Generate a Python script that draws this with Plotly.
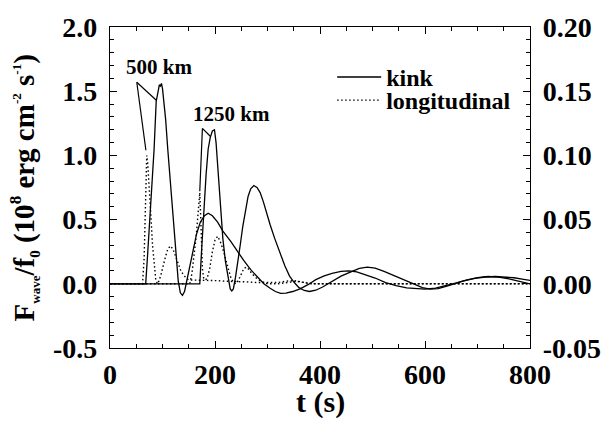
import plotly.graph_objects as go

# ---- data ----
# kink, 500 km (left axis, 10^8 erg cm^-2 s^-1)
K500_T = [0, 68, 72, 76, 80, 84, 88, 91, 94, 96, 98, 100, 103, 106, 110, 115, 120, 125, 130, 134,
          138, 142, 147, 152, 158, 165, 172, 180, 187, 195, 205, 215, 230, 243, 255, 268, 280, 293, 305, 315,
          325, 335, 348, 362, 378, 392, 408, 423, 440, 455, 470, 485, 505, 525, 545, 565, 585, 600, 620, 640,
          660, 680, 700, 720, 740, 760, 780, 800]
K500 = [0, 0, 0.25, 0.5, 0.75, 1.05, 1.42, 1.5, 1.55, 1.54, 1.56, 1.52, 1.42, 1.28, 1.05, 0.78, 0.5, 0.22, 0.02, -0.07,
        -0.09, -0.06, 0.04, 0.15, 0.27, 0.39, 0.48, 0.53, 0.55, 0.53, 0.48, 0.41, 0.33, 0.25, 0.18, 0.11, 0.057, 0.0, -0.035, -0.06,
        -0.075, -0.072, -0.06, -0.04, -0.005, 0.032, 0.062, 0.082, 0.097, 0.1, 0.093, 0.075, 0.045, 0.01, -0.015, -0.032, -0.041, -0.042, -0.033, -0.015,
        0.007, 0.03, 0.048, 0.057, 0.052, 0.038, 0.018, 0.0]

# kink, 1250 km
K1250_T = [0, 171, 175, 179, 183, 187, 191, 195, 199, 202, 205, 208, 211, 215, 220, 225, 229, 232, 235, 239,
           243, 248, 253, 258, 263, 268, 274, 280, 286, 292, 298, 305, 314, 323, 333, 342, 351, 360, 370, 380,
           392, 405, 423, 440, 460, 475, 490, 505, 522, 540, 560, 580, 595, 610, 625, 645, 672, 695, 715, 734,
           750, 770, 785, 800]
K1250 = [0, 0, 0.3, 0.6, 0.85, 1.05, 1.14, 1.19, 1.2, 1.1, 0.92, 0.72, 0.55, 0.35, 0.17, 0.04, -0.04, -0.055, -0.04, 0.05,
         0.15, 0.3, 0.45, 0.58, 0.68, 0.74, 0.765, 0.75, 0.71, 0.64, 0.55, 0.46, 0.35, 0.25, 0.14, 0.06, 0.01, -0.03, -0.052, -0.06,
         -0.05, -0.025, 0.02, 0.06, 0.095, 0.12, 0.13, 0.122, 0.097, 0.065, 0.032, 0.0, -0.03, -0.042, -0.037, -0.015, 0.02, 0.042, 0.053, 0.057,
         0.055, 0.047, 0.037, 0.027]

# longitudinal, 500 km (right axis)
L500_T = [0, 62, 65, 67, 69, 70, 72, 75, 78, 81, 84, 87, 90, 93, 97, 101, 105, 110, 115, 120,
          125, 130, 135, 140, 145, 150, 160, 180, 200, 220, 240, 260, 280, 300, 320, 335, 350, 365, 380, 400, 800]
L500 = [0, 0, 0.02, 0.05, 0.085, 0.1, 0.093, 0.075, 0.052, 0.03, 0.014, 0.004, 0.0, 0.002, 0.007, 0.014, 0.02, 0.027, 0.0295, 0.027,
        0.021, 0.015, 0.01, 0.007, 0.0045, 0.003, 0.003, 0.003, 0.0025, 0.002, 0.002, 0.0015, 0.001, 0.001, 0.001, 0.002, 0.0025, 0.0015, 0.0, 0.0, 0.0]

# longitudinal, 1250 km (right axis)
L1250_T = [0, 152, 156, 160, 164, 168, 171, 172.5, 174, 176, 178, 181, 185, 190, 195, 200, 205, 210, 215, 220,
           225, 230, 235, 240, 245, 250, 255, 260, 265, 270, 280, 290, 300, 320, 340, 355, 370, 390, 800]
L1250 = [0, 0, 0.008, 0.02, 0.036, 0.056, 0.071, 0.055, 0.03, 0.012, 0.005, 0.003, 0.004, 0.012, 0.025, 0.034, 0.037, 0.033, 0.027, 0.019,
         0.012, 0.005, 0.001, 0.0, 0.003, 0.008, 0.012, 0.013, 0.011, 0.008, 0.004, 0.0015, 0.0, 0.0, 0.001, 0.002, 0.001, 0.0, 0.0]

# labels with leader lines: (label, label position, leader origin, leader targets)
LABELS = [
    ("500 km", (93, 1.69), (51, 1.57), [(68.4, 1.04), (88.2, 1.43)]),
    ("1250 km", (232, 1.325), (176, 1.21), [(171, 0.72), (191.5, 1.147)]),
]

X_TICKS = [0, 200, 400, 600, 800]
Y_TICKS = [-0.5, 0.0, 0.5, 1.0, 1.5, 2.0]
Y_TICKTEXT = ["-0.5", "0.0", "0.5", "1.0", "1.5", "2.0"]
Y2_TICKS = [-0.05, 0.0, 0.05, 0.10, 0.15, 0.20]
Y2_TICKTEXT = ["-0.05", "0.00", "0.05", "0.10", "0.15", "0.20"]

FONT = "Liberation Serif"
DOT = "1.5px,2.5px"

fig = go.Figure()
line_solid = dict(color="black", width=1.3)
line_dot = dict(color="black", width=1.4, dash=DOT)

fig.add_trace(go.Scatter(x=K500_T, y=K500, mode="lines", line=line_solid, name="kink",
                         legend="legend", showlegend=True))
fig.add_trace(go.Scatter(x=K1250_T, y=K1250, mode="lines", line=line_solid, name="kink", showlegend=False))
fig.add_trace(go.Scatter(x=L500_T, y=L500, mode="lines", line=line_dot, name="longitudinal",
                         yaxis="y2", legend="legend2", showlegend=True))
fig.add_trace(go.Scatter(x=L1250_T, y=L1250, mode="lines", line=line_dot, name="longitudinal",
                         yaxis="y2", showlegend=False))

shapes = []
annotations = []
for text, (lx, ly), (ox, oy), targets in LABELS:
    for (tx, ty) in targets:
        shapes.append(dict(type="line", xref="x", yref="y", x0=ox, y0=oy, x1=tx, y1=ty,
                           line=dict(color="black", width=1.2)))
    annotations.append(dict(text=text, x=lx, y=ly, xref="x", yref="y", showarrow=False,
                            font=dict(family=FONT, size=21, color="black", weight="bold")))

ytitle = ("F<sub><span style='font-size:13px'>wave</span></sub>/f<sub><span style='font-size:15px'>0</span></sub>"
          " (10<sup><span style='font-size:17px'>8</span></sup> erg cm<sup><span style='font-size:13px'>-2</span></sup>"
          " s<sup><span style='font-size:13px'>-1</span></sup>)")
annotations.append(dict(text=ytitle, x=-0.205, y=0.5, xref="paper", yref="paper", textangle=-90,
                        showarrow=False, xanchor="center", yanchor="middle",
                        font=dict(family=FONT, size=29, color="black", weight="bold")))
annotations.append(dict(text="t (s)", x=0.5, y=-0.168, xref="paper", yref="paper", showarrow=False,
                        xanchor="center", yanchor="middle",
                        font=dict(family=FONT, size=30, color="black", weight="bold")))

tickfont = dict(family=FONT, size=28, color="black", weight="bold")
common = dict(showline=True, linecolor="black", linewidth=1.3, ticks="inside", ticklen=7,
              tickcolor="black", tickwidth=1.2, showgrid=False, zeroline=False, tickfont=tickfont,
              ticklabeloverflow="allow")

legend_common = dict(xanchor="left", yanchor="middle", bgcolor="rgba(0,0,0,0)",
                     font=dict(family=FONT, size=24, color="black", weight="bold"),
                     itemwidth=44, borderwidth=0)

fig.update_layout(
    width=613, height=421,
    margin=dict(l=110, r=75, t=13, b=73),
    paper_bgcolor="white", plot_bgcolor="white",
    font=dict(family=FONT, color="black"),
    xaxis=dict(range=[0, 800], tickvals=X_TICKS, mirror="ticks", ticklabelstandoff=1,
               minor=dict(dtick=50, ticks="inside", ticklen=4, tickcolor="black", tickwidth=1.1),
               **common),
    yaxis=dict(range=[-0.5, 2.0], tickvals=Y_TICKS, ticktext=Y_TICKTEXT, ticklabelstandoff=6,
               minor=dict(dtick=0.1, ticks="inside", ticklen=4, tickcolor="black", tickwidth=1.1),
               **common),
    yaxis2=dict(range=[-0.05, 0.20], tickvals=Y2_TICKS, ticktext=Y2_TICKTEXT, overlaying="y", side="right",
                ticklabelstandoff=6,
                minor=dict(dtick=0.01, ticks="inside", ticklen=4, tickcolor="black", tickwidth=1.1),
                **common),
    legend=dict(x=0.529, y=0.843, **legend_common),
    legend2=dict(x=0.529, y=0.771, **legend_common),
    shapes=shapes,
    annotations=annotations,
    showlegend=True,
)

fig.write_html("out.html")
